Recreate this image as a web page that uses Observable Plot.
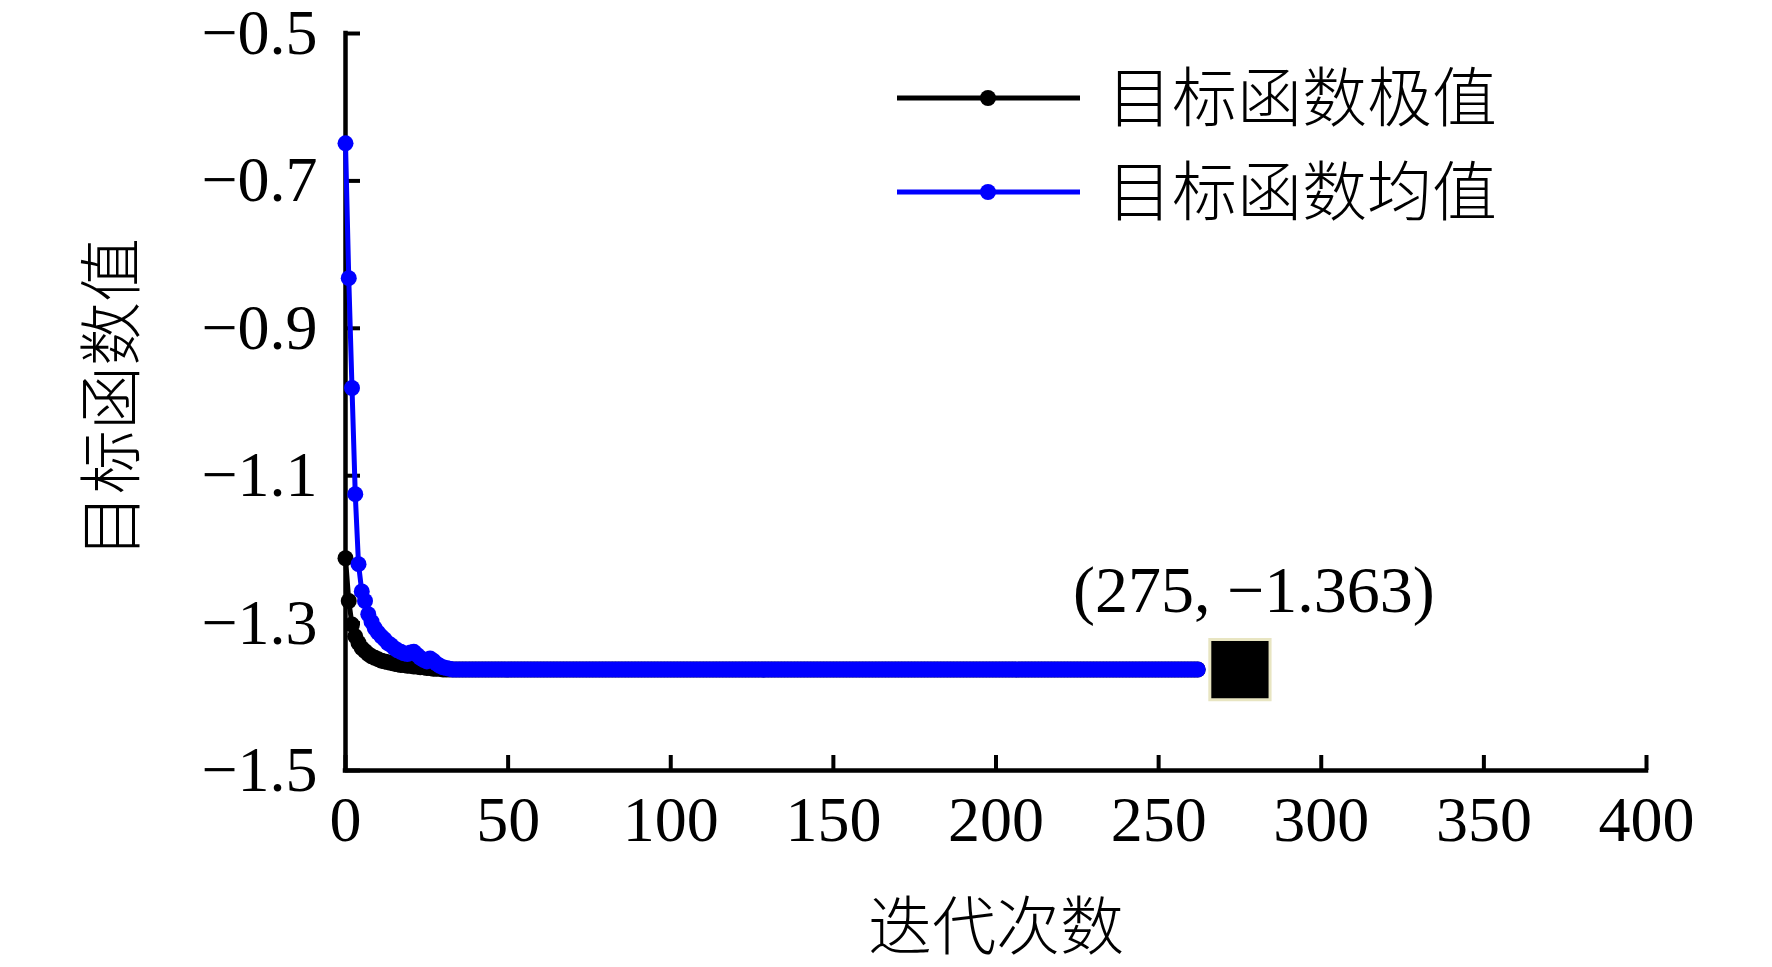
<!DOCTYPE html>
<html><head><meta charset="utf-8">
<script src="https://cdn.jsdelivr.net/npm/d3@7"></script>
<script src="https://cdn.jsdelivr.net/npm/@observablehq/plot@0.6"></script>
<style>body{margin:0;background:#fff;} #chart{width:1772px;height:967px;}</style>
</head><body><div id="chart"></div>
<script>
// 目标函数极值 (best value per iteration), iterations 0..262
const extremeValues = [
-1.212,-1.270,-1.302,-1.318,-1.327,-1.334,-1.338,-1.342,-1.345,-1.347,
-1.349,-1.351,-1.352,-1.353,-1.354,-1.355,-1.356,-1.357,-1.357,-1.358,
-1.358,-1.359,-1.359,-1.360,-1.360,-1.361,-1.361,-1.362,-1.362,-1.362,
-1.363,-1.363,-1.363,-1.363,-1.363,-1.363,-1.363,-1.363,-1.363,-1.363,
-1.363,-1.363,-1.363,-1.363,-1.363,-1.363,-1.363,-1.363,-1.363,-1.363,
-1.363,-1.363,-1.363,-1.363,-1.363,-1.363,-1.363,-1.363,-1.363,-1.363,
-1.363,-1.363,-1.363,-1.363,-1.363,-1.363,-1.363,-1.363,-1.363,-1.363,
-1.363,-1.363,-1.363,-1.363,-1.363,-1.363,-1.363,-1.363,-1.363,-1.363,
-1.363,-1.363,-1.363,-1.363,-1.363,-1.363,-1.363,-1.363,-1.363,-1.363,
-1.363,-1.363,-1.363,-1.363,-1.363,-1.363,-1.363,-1.363,-1.363,-1.363,
-1.363,-1.363,-1.363,-1.363,-1.363,-1.363,-1.363,-1.363,-1.363,-1.363,
-1.363,-1.363,-1.363,-1.363,-1.363,-1.363,-1.363,-1.363,-1.363,-1.363,
-1.363,-1.363,-1.363,-1.363,-1.363,-1.363,-1.363,-1.363,-1.363,-1.363,
-1.363,-1.363,-1.363,-1.363,-1.363,-1.363,-1.363,-1.363,-1.363,-1.363,
-1.363,-1.363,-1.363,-1.363,-1.363,-1.363,-1.363,-1.363,-1.363,-1.363,
-1.363,-1.363,-1.363,-1.363,-1.363,-1.363,-1.363,-1.363,-1.363,-1.363,
-1.363,-1.363,-1.363,-1.363,-1.363,-1.363,-1.363,-1.363,-1.363,-1.363,
-1.363,-1.363,-1.363,-1.363,-1.363,-1.363,-1.363,-1.363,-1.363,-1.363,
-1.363,-1.363,-1.363,-1.363,-1.363,-1.363,-1.363,-1.363,-1.363,-1.363,
-1.363,-1.363,-1.363,-1.363,-1.363,-1.363,-1.363,-1.363,-1.363,-1.363,
-1.363,-1.363,-1.363,-1.363,-1.363,-1.363,-1.363,-1.363,-1.363,-1.363,
-1.363,-1.363,-1.363,-1.363,-1.363,-1.363,-1.363,-1.363,-1.363,-1.363,
-1.363,-1.363,-1.363,-1.363,-1.363,-1.363,-1.363,-1.363,-1.363,-1.363,
-1.363,-1.363,-1.363,-1.363,-1.363,-1.363,-1.363,-1.363,-1.363,-1.363,
-1.363,-1.363,-1.363,-1.363,-1.363,-1.363,-1.363,-1.363,-1.363,-1.363,
-1.363,-1.363,-1.363,-1.363,-1.363,-1.363,-1.363,-1.363,-1.363,-1.363,
-1.363,-1.363,-1.363
];
// 目标函数均值 (mean value per iteration), iterations 0..262
const meanValues = [
-0.649,-0.832,-0.981,-1.125,-1.220,-1.257,-1.270,-1.288,-1.298,-1.307,
-1.313,-1.318,-1.322,-1.327,-1.330,-1.334,-1.337,-1.339,-1.341,-1.342,
-1.340,-1.339,-1.343,-1.347,-1.350,-1.352,-1.348,-1.351,-1.355,-1.358,
-1.360,-1.361,-1.362,-1.363,-1.363,-1.363,-1.363,-1.363,-1.363,-1.363,
-1.363,-1.363,-1.363,-1.363,-1.363,-1.363,-1.363,-1.363,-1.363,-1.363,
-1.363,-1.363,-1.363,-1.363,-1.363,-1.363,-1.363,-1.363,-1.363,-1.363,
-1.363,-1.363,-1.363,-1.363,-1.363,-1.363,-1.363,-1.363,-1.363,-1.363,
-1.363,-1.363,-1.363,-1.363,-1.363,-1.363,-1.363,-1.363,-1.363,-1.363,
-1.363,-1.363,-1.363,-1.363,-1.363,-1.363,-1.363,-1.363,-1.363,-1.363,
-1.363,-1.363,-1.363,-1.363,-1.363,-1.363,-1.363,-1.363,-1.363,-1.363,
-1.363,-1.363,-1.363,-1.363,-1.363,-1.363,-1.363,-1.363,-1.363,-1.363,
-1.363,-1.363,-1.363,-1.363,-1.363,-1.363,-1.363,-1.363,-1.363,-1.363,
-1.363,-1.363,-1.363,-1.363,-1.363,-1.363,-1.363,-1.363,-1.363,-1.363,
-1.363,-1.363,-1.363,-1.363,-1.363,-1.363,-1.363,-1.363,-1.363,-1.363,
-1.363,-1.363,-1.363,-1.363,-1.363,-1.363,-1.363,-1.363,-1.363,-1.363,
-1.363,-1.363,-1.363,-1.363,-1.363,-1.363,-1.363,-1.363,-1.363,-1.363,
-1.363,-1.363,-1.363,-1.363,-1.363,-1.363,-1.363,-1.363,-1.363,-1.363,
-1.363,-1.363,-1.363,-1.363,-1.363,-1.363,-1.363,-1.363,-1.363,-1.363,
-1.363,-1.363,-1.363,-1.363,-1.363,-1.363,-1.363,-1.363,-1.363,-1.363,
-1.363,-1.363,-1.363,-1.363,-1.363,-1.363,-1.363,-1.363,-1.363,-1.363,
-1.363,-1.363,-1.363,-1.363,-1.363,-1.363,-1.363,-1.363,-1.363,-1.363,
-1.363,-1.363,-1.363,-1.363,-1.363,-1.363,-1.363,-1.363,-1.363,-1.363,
-1.363,-1.363,-1.363,-1.363,-1.363,-1.363,-1.363,-1.363,-1.363,-1.363,
-1.363,-1.363,-1.363,-1.363,-1.363,-1.363,-1.363,-1.363,-1.363,-1.363,
-1.363,-1.363,-1.363,-1.363,-1.363,-1.363,-1.363,-1.363,-1.363,-1.363,
-1.363,-1.363,-1.363,-1.363,-1.363,-1.363,-1.363,-1.363,-1.363,-1.363,
-1.363,-1.363,-1.363
];
const seriesNames = ["目标函数极值", "目标函数均值"];
const seriesColors = ["#000000", "#0000ff"];
const xTicks = [0, 50, 100, 150, 200, 250, 300, 350, 400];
const yTicks = [-0.5, -0.7, -0.9, -1.1, -1.3, -1.5];
const optimum = [{iteration: 275, value: -1.363}];
const xTitle = "迭代次数";
const yTitle = "目标函数值";

const extremeRows = extremeValues.map((v, i) => ({iter: i, value: v}));
const meanRows = meanValues.map((v, i) => ({iter: i, value: v}));

const serif = "'Liberation Serif','Times New Roman',serif";
const cjk = "'Liberation Serif','Noto Sans CJK SC',sans-serif";
const fmt = d => String(d).replace("-", "\u2212");

const chart = Plot.plot({
  width: 1772, height: 967,
  marginLeft: 345, marginRight: 126, marginTop: 33, marginBottom: 197,
  x: {domain: [0, 400], axis: null},
  y: {domain: [-1.5, -0.5], axis: null},
  style: {background: "#fff", overflow: "visible"},
  marks: [
    Plot.ruleX([0], {stroke: "#000", strokeWidth: 4.5, strokeLinecap: "square"}),
    Plot.ruleY([-1.5], {stroke: "#000", strokeWidth: 4.5, strokeLinecap: "square"}),
    Plot.axisY(yTicks, {tickSize: -15, strokeWidth: 4, tickFormat: () => "", label: null}),
    Plot.axisX(xTicks, {tickSize: -15, strokeWidth: 4, tickFormat: () => "", label: null}),
    Plot.text(yTicks, {y: d => d, text: fmt, frameAnchor: "left", dx: -28, textAnchor: "end",
      lineAnchor: "middle", fontSize: 64, fontFamily: serif, fill: "#000"}),
    Plot.text(xTicks, {x: d => d, text: d => String(d), frameAnchor: "bottom", dy: 50,
      textAnchor: "middle", lineAnchor: "middle", fontSize: 64, fontFamily: serif, fill: "#000"}),
    Plot.text([xTitle], {text: d => d, frameAnchor: "bottom", dy: 158, textAnchor: "middle", lineAnchor: "middle",
      fontSize: 64, fontFamily: cjk, fontWeight: 300, fill: "#000"}),
    Plot.text([yTitle], {text: d => d, frameAnchor: "left", dx: -232, dy: -4, rotate: -90,
      textAnchor: "middle", lineAnchor: "middle",
      fontSize: 64, fontFamily: cjk, fontWeight: 300, fill: "#000"}),
    Plot.line(extremeRows, {x: "iter", y: "value", stroke: seriesColors[0], strokeWidth: 5}),
    Plot.dot(extremeRows, {x: "iter", y: "value", r: 8, fill: seriesColors[0], stroke: "none"}),
    Plot.line(meanRows, {x: "iter", y: "value", stroke: seriesColors[1], strokeWidth: 5}),
    Plot.dot(meanRows, {x: "iter", y: "value", r: 8, fill: seriesColors[1], stroke: "none"}),
    Plot.dot(optimum, {x: "iteration", y: "value", symbol: "square", r: 34, fill: "#000",
      stroke: "#e8e5c2", strokeWidth: 3}),
    Plot.text(optimum, {x: "iteration", y: "value", text: d => `(${d.iteration}, ${fmt(d.value)})`,
      dx: 14, dy: -79, textAnchor: "middle", lineAnchor: "middle", fontSize: 66, fontFamily: serif, fill: "#000"})
  ]
});

// legend
const svg = d3.select(chart);
const lg = svg.append("g");
seriesNames.forEach((name, i) => {
  const y = 98 + i * 94;
  lg.append("line").attr("x1", 897).attr("x2", 1080).attr("y1", y).attr("y2", y)
    .attr("stroke", seriesColors[i]).attr("stroke-width", 5);
  lg.append("circle").attr("cx", 988).attr("cy", y).attr("r", 8).attr("fill", seriesColors[i]);
  lg.append("text").attr("x", 1107).attr("y", y).attr("dy", "0.36em")
    .attr("text-anchor", "start")
    .style("font-size", "65px").style("font-family", cjk).style("font-weight", 300)
    .attr("fill", "#000").text(name);
});

document.getElementById("chart").appendChild(chart);
</script>
</body></html>
